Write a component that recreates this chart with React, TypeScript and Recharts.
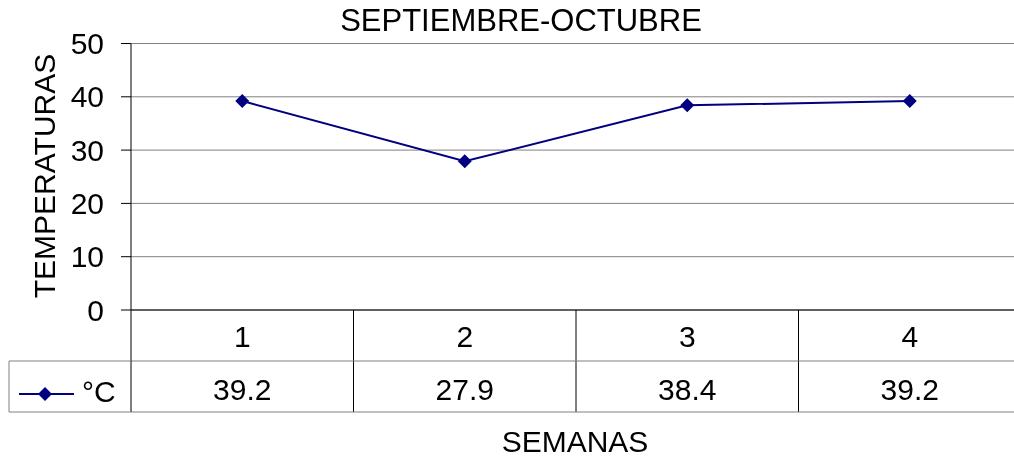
import { LineChart, Line, XAxis, YAxis, CartesianGrid } from "recharts";

const weeks = ["1", "2", "3", "4"];
const temps = [39.2, 27.9, 38.4, 39.2];
const yTicks = [0, 10, 20, 30, 40, 50];
const seriesName = "°C";
const chartTitle = "SEPTIEMBRE-OCTUBRE";
const yTitle = "TEMPERATURAS";
const xTitle = "SEMANAS";

const data = weeks.map((w, i) => ({ week: w, temp: temps[i] }));

// layout: chart is pinned at the page origin, so chart coords = page coords
const W = 1022;
const H = 458;
const LEFT = 131;
const RIGHT = 1021;
const BOTTOM = 310;
const ROW = 51;
const band = (RIGHT - LEFT) / weeks.length;
const FONT = "'Liberation Sans', Arial, sans-serif";
const NAVY = "#000080";
const GRAY = "#808080";

function Diamond(props: any) {
  const { cx, cy } = props;
  if (cx == null || cy == null) return null;
  const s = 7;
  return (
    <polygon
      points={`${cx},${cy - s} ${cx + s},${cy} ${cx},${cy + s} ${cx - s},${cy}`}
      fill={NAVY}
    />
  );
}

// x axis tick draws one column of the data table
function TableTick(props: any) {
  const { x, payload } = props;
  const i = props.index ?? payload.index;
  const l = x - band / 2;
  const r = x + band / 2;
  return (
    <g>
      <line x1={r} y1={BOTTOM} x2={r} y2={BOTTOM + 2 * ROW} stroke="#000" />
      <line x1={l} y1={BOTTOM + ROW} x2={r} y2={BOTTOM + ROW} stroke={GRAY} />
      <line x1={l} y1={BOTTOM + 2 * ROW} x2={r} y2={BOTTOM + 2 * ROW} stroke={GRAY} />
      <text x={x} y={BOTTOM + 37} textAnchor="middle" fontSize={30} fontFamily={FONT} fill="#000">
        {payload.value}
      </text>
      <text x={x} y={BOTTOM + 90} textAnchor="middle" fontSize={30} fontFamily={FONT} fill="#000">
        {temps[i]}
      </text>
      {i === 0 && (
        <g>
          <line x1={l} y1={BOTTOM} x2={l} y2={BOTTOM + 2 * ROW} stroke="#000" />
          <line x1={9} y1={BOTTOM + ROW} x2={l} y2={BOTTOM + ROW} stroke={GRAY} />
          <line x1={9} y1={BOTTOM + 2 * ROW} x2={l} y2={BOTTOM + 2 * ROW} stroke={GRAY} />
          <line x1={9} y1={BOTTOM + ROW} x2={9} y2={BOTTOM + 2 * ROW} stroke={GRAY} />
          <line x1={19} y1={BOTTOM + 84} x2={74} y2={BOTTOM + 84} stroke={NAVY} strokeWidth={2} />
          <Diamond cx={45} cy={BOTTOM + 84} />
          <text x={82} y={BOTTOM + 92} fontSize={30} fontFamily={FONT} fill="#000">
            {seriesName}
          </text>
        </g>
      )}
    </g>
  );
}

export default function App() {
  return (
    <div style={{ position: "fixed", left: 0, top: 0, width: 1014, height: H, overflow: "hidden" }}>
      <LineChart
        width={W}
        height={H}
        data={data}
        margin={{ top: 43.5, right: 1, left: 0, bottom: 44 }}
      >
        <CartesianGrid horizontal vertical={false} stroke={GRAY} />
        <XAxis
          dataKey="week"
          scale="band"
          interval={0}
          height={104}
          axisLine={{ stroke: "#000" }}
          tickLine={false}
          tick={<TableTick />}
        />
        <YAxis
          width={LEFT}
          domain={[0, 50]}
          ticks={yTicks}
          interval={0}
          tickSize={10}
          tickMargin={17}
          axisLine={{ stroke: "#000" }}
          tickLine={{ stroke: "#000" }}
          tick={{ fontSize: 30, fontFamily: FONT, fill: "#000" }}
        />
        <Line
          dataKey="temp"
          name={seriesName}
          stroke={NAVY}
          strokeWidth={2}
          dot={<Diamond />}
          activeDot={false}
          isAnimationActive={false}
        />
        <text x={521} y={30.5} textAnchor="middle" fontSize={31} fontFamily={FONT} fill="#000">
          {chartTitle}
        </text>
        <text
          x={55}
          y={176}
          textAnchor="middle"
          fontSize={30}
          fontFamily={FONT}
          fill="#000"
          transform="rotate(-90 55 176)"
        >
          {yTitle}
        </text>
        <text x={575} y={452} textAnchor="middle" fontSize={30} fontFamily={FONT} fill="#000">
          {xTitle}
        </text>
      </LineChart>
    </div>
  );
}
